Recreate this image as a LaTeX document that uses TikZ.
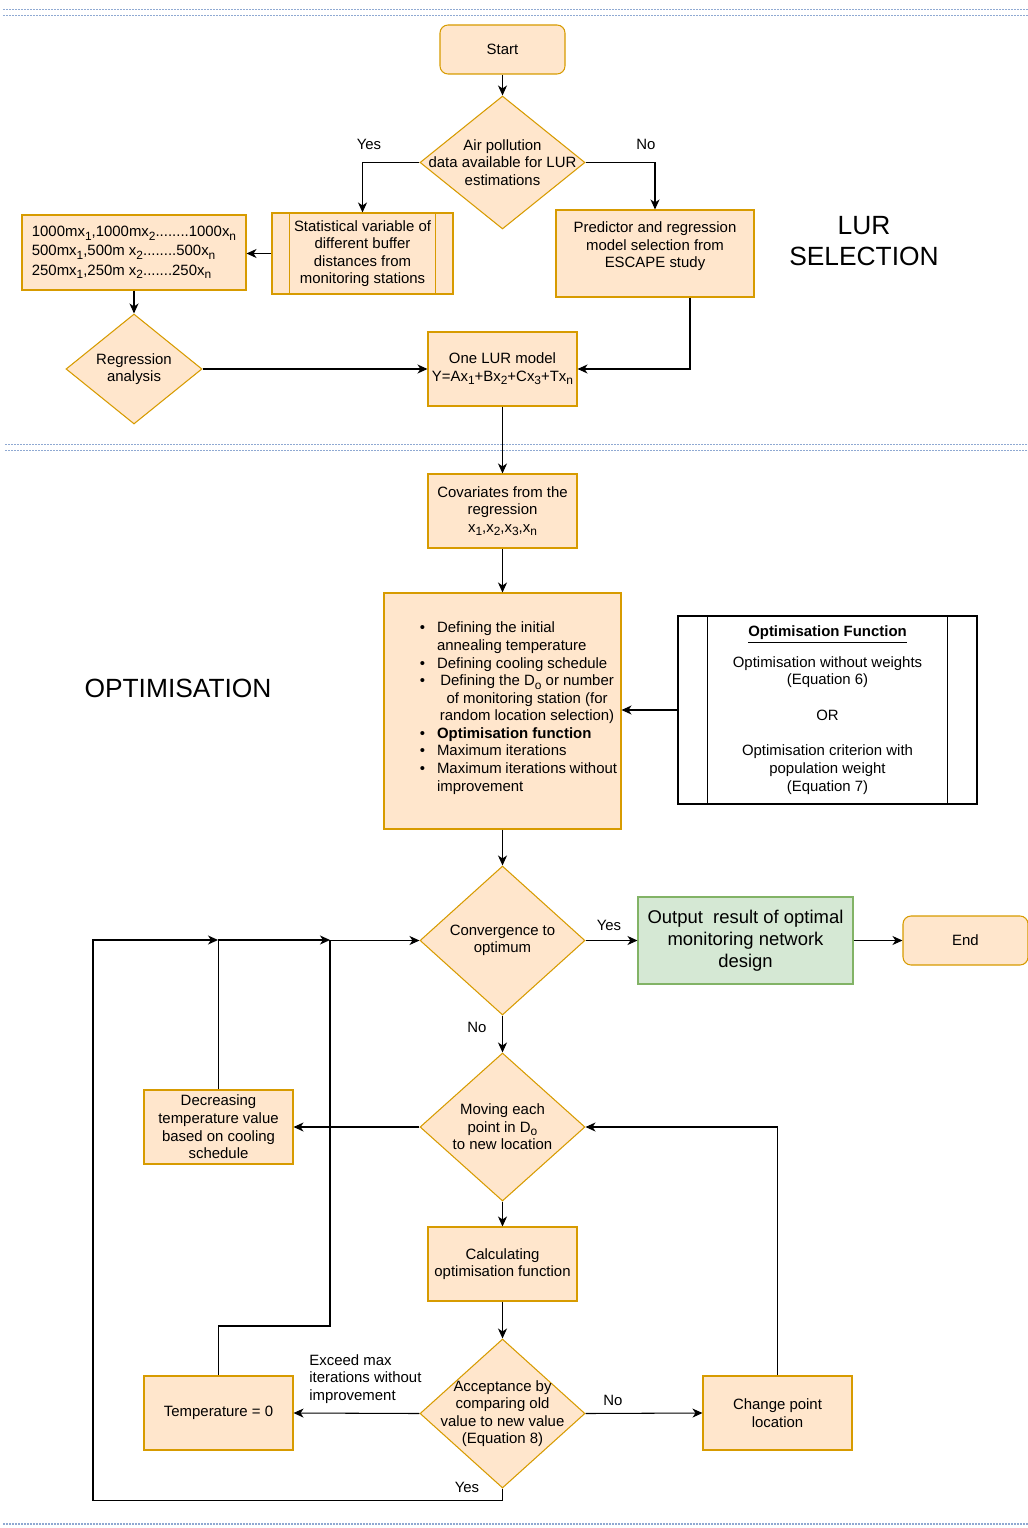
\documentclass[tikz,border=0pt]{standalone}
\usepackage{fontspec}
\setmainfont{Liberation Sans}
\usetikzlibrary{shapes.geometric,arrows.meta}

\definecolor{lurfill}{HTML}{FFE6CC}
\definecolor{lurdraw}{HTML}{D79B00}
\definecolor{outfill}{HTML}{D5E8D4}
\definecolor{outdraw}{HTML}{82B366}
\definecolor{sepblue}{HTML}{8FA9D2}

\newcommand\lurfont{\fontsize{8.5}{10}\selectfont}
\newcommand\lsub[1]{\raisebox{-0.45ex}{\fontsize{6.8}{7}\selectfont #1}}

\tikzset{
  box/.style={rectangle, draw=lurdraw, fill=lurfill, line width=0.6pt,
    align=center, font=\lurfont, inner sep=1pt,
    minimum width=29.8mm, minimum height=14.8mm},
  rbox/.style={box, rounded corners=1.6mm, minimum width=25mm, minimum height=9.8mm},
  outbox/.style={box, draw=outdraw, fill=outfill,
    font=\fontsize{10.5}{12.6}\selectfont},
  optbox/.style={box, draw=black, fill=white},
  decision/.style={diamond, draw=lurdraw, fill=lurfill, line width=0.6pt,
    inner sep=0pt, minimum width=33mm, minimum height=29.8mm},
  dtext/.style={align=center, font=\lurfont, inner sep=0pt},
  flow/.style={draw=black, line width=0.6pt,
    -{Stealth[length=2mm, width=1.8mm, inset=0.6mm]}},
  lbl/.style={font=\lurfont, inner sep=0pt},
  bigtitle/.style={font=\fontsize{15}{18}\selectfont, align=center},
  separator/.style={draw=sepblue, line width=0.3mm, dash pattern=on 0.4mm off 0.2mm}
}

\begin{document}
\begin{tikzpicture}[x=0.2mm, y=-0.2mm]
\useasboundingbox (0,0) rectangle (1028,1528);

% ================================================================
%  Separadores de bandas (punteados)
% ================================================================
\draw[separator] (3,9.5)   -- (1028,9.5);
\draw[separator] (3,15.5)  -- (1028,15.5);
\draw[separator] (5,444.5) -- (1028,444.5);
\draw[separator] (5,450.5) -- (1028,450.5);
\draw[separator] (3,1524)  -- (1028,1524);

% ================================================================
%  LUR selection
% ================================================================
\node[rbox] (start) at (502.5,49.5) {Start};
\node[decision, minimum height=26.6mm,
      label={[dtext]center:Air pollution\\data available for LUR\\estimations}]
      (avail) at (502.5,162.5) {};

\node[box, minimum width=36.2mm, minimum height=16.2mm] (stat) at (362.5,253.5)
    {Statistical variable of\\different buffer\\distances from\\monitoring stations};
\draw[lurdraw, line width=0.6pt] ([xshift=3.6mm]stat.north west) -- ([xshift=3.6mm]stat.south west);
\draw[lurdraw, line width=0.6pt] ([xshift=-3.6mm]stat.north east) -- ([xshift=-3.6mm]stat.south east);

\node[box, minimum width=44.8mm, minimum height=15mm, align=left] (buffers) at (134,252.5)
    {1000mx\lsub{1},1000mx\lsub{2}........1000x\lsub{n}\\[0.3mm]
     500mx\lsub{1},500m x\lsub{2}........500x\lsub{n}\\[0.3mm]
     250mx\lsub{1},250m x\lsub{2}.......250x\lsub{n}};

\node[box, minimum width=39.6mm, minimum height=17.4mm] (pred) at (655,253.5)
    {Predictor and regression\\model selection from\\ESCAPE study\\};

\node[bigtitle] (lurtitle) at (864,241) {LUR\\SELECTION};

\node[decision, minimum width=27.2mm, minimum height=22mm,
      label={[dtext]center:Regression\\analysis}] (regress) at (134,369) {};

\node[box] (lur) at (502.5,369)
    {One LUR model\\Y=Ax\lsub{1}+Bx\lsub{2}+Cx\lsub{3}+Tx\lsub{n}};

% Etiquetas Yes / No
\node[lbl] (yesavail) at (369,144) {Yes};
\node[lbl] (noavail)  at (646,144) {No};

\draw[flow] (start) -- (avail);
\draw[flow] (avail.west) -| (stat.north);
\draw[flow] (avail.east) -| (pred.north);
\draw[flow] (stat.west) -- (stat.west -| buffers.east);
\draw[flow] (buffers.south) -- (regress.north);
\draw[flow] (regress.east) -- (lur.west);
\draw[flow] ([xshift=7mm]pred.south) |- (lur.east);

% ================================================================
%  Optimisation
% ================================================================
\node[box] (cov) at (502.5,511)
    {Covariates from the\\regression\\x\lsub{1},x\lsub{2},x\lsub{3},x\lsub{n}};

\node[box, minimum width=47.4mm, minimum height=47.2mm] (params) at (502.5,711) {};
\node[font=\lurfont, anchor=west, inner sep=0pt] (paramlist) at ([xshift=7.2mm, yshift=0.5mm]params.west)
  {\begin{tabular}{@{}l@{\hspace{2.4mm}}p{36mm}@{}}
   \textbullet & Defining the initial\\
               & annealing temperature\\
   \textbullet & Defining cooling schedule\\
   \textbullet & \hspace*{\fill}Defining the D\lsub{o} or number\hspace*{\fill}\\
               & \hspace*{\fill}of monitoring station (for\hspace*{\fill}\\
               & \hspace*{\fill}random location selection)\hspace*{\fill}\\
   \textbullet & \textbf{Optimisation function}\\
   \textbullet & Maximum iterations\\
   \textbullet & Maximum iterations without\\
               & improvement
   \end{tabular}};

\node[optbox, minimum width=59.8mm, minimum height=37.6mm] (optfun) at (827.5,710)
    {\underline{\textbf{Optimisation Function}}\\[2.6mm]
     Optimisation without weights\\(Equation 6)\\[3.6mm]
     OR\\[3.6mm]
     Optimisation criterion with\\population weight\\(Equation 7)};
\draw[line width=0.6pt] ([xshift=6mm]optfun.north west) -- ([xshift=6mm]optfun.south west);
\draw[line width=0.6pt] ([xshift=-6mm]optfun.north east) -- ([xshift=-6mm]optfun.south east);

\node[bigtitle] (opttitle) at (178,688) {OPTIMISATION};

\node[decision, label={[dtext]center:Convergence to\\optimum}] (conv) at (502.5,940.5) {};
\node[outbox, minimum width=43mm, minimum height=17.4mm] (output) at (745.5,940.5)
    {Output\ \ result of optimal\\monitoring network\\design};
\node[rbox] (finish) at (965.5,940.5) {End};

\node[decision, minimum height=29.6mm,
      label={[dtext]center:Moving each\\point in D\lsub{o}\\to new location}]
      (move) at (502.5,1127) {};
\node[box] (decr) at (218.5,1127)
    {Decreasing\\temperature value\\based on cooling\\schedule};

\node[box] (calc) at (502.5,1264) {Calculating\\optimisation function};

\node[decision,
      label={[dtext]center:Acceptance by\\comparing old\\value to new value\\(Equation 8)}]
      (accept) at (502.5,1413.5) {};
\node[box] (temp)   at (218.5,1413) {Temperature = 0};
\node[box] (change) at (777.5,1413) {Change point\\location};

\node[lbl, align=left, anchor=west] (exceedlbl) at (309,1379)
    {Exceed max\\iterations without\\improvement};
\node[lbl] (yesconv)   at (609,925)  {Yes};
\node[lbl] (noconv)    at (477,1027) {No};
\node[lbl] (noaccept)  at (613,1400) {No};
\node[lbl] (yesaccept) at (467,1487) {Yes};

% Puntos de union sobre la linea de retorno
\coordinate (joinA) at (218,940);
\coordinate (joinB) at (330,940);

\draw[flow] (lur) -- (cov);
\draw[flow] (cov) -- (params);
\draw[flow] (optfun.west) -- (optfun.west -| params.east);
\draw[flow] (params) -- (conv);
\draw[flow] (conv.east) -- (output.west);
\draw[flow] (output.east) -- (finish.west);
\draw[flow] (conv) -- (move);
\draw[flow] (move.west) -- (decr.east);
\draw[flow] (move) -- (calc);
\draw[flow] (calc) -- (accept);
\draw[flow] (accept.west) -- (temp.east);
\draw[flow] (accept.east) -- (change.west);
\draw[flow] (change.north) |- (move.east);

% Retornos hacia la convergencia
\draw[flow] (accept.south) -- ++(0,12) -| (93,940) -- (joinA);
\draw[flow] (decr.north) |- (joinB);
\draw[flow] (temp.north) |- (330,1326) |- (conv.west);

\end{tikzpicture}
\end{document}
